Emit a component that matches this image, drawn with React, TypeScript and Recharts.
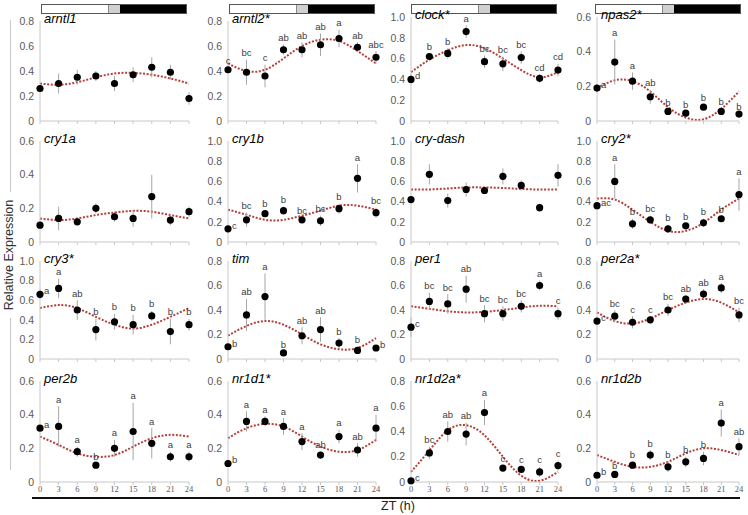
import React from "react";
import { ComposedChart, Line, Scatter, ErrorBar, XAxis, YAxis } from "recharts";

// sampling times (h)
const ZT = [0, 3, 6, 9, 12, 15, 18, 21, 24];

const T06 = [0, 0.2, 0.4, 0.6];
const T08 = [0, 0.2, 0.4, 0.6, 0.8];
const T10 = [0, 0.2, 0.4, 0.6, 0.8, 1.0];

// mean, error, fitted curve (read at each ZT), significance letters (">" = letter on the right)
const arntl1Mean = [0.26, 0.30, 0.35, 0.36, 0.30, 0.37, 0.43, 0.39, 0.18];
const arntl1Err = [0.02, 0.08, 0.06, 0.04, 0.06, 0.06, 0.08, 0.06, 0.05];
const arntl1Fit = [0.30, 0.29, 0.31, 0.35, 0.38, 0.385, 0.37, 0.34, 0.30];

const arntl2Mean = [0.41, 0.39, 0.36, 0.57, 0.57, 0.61, 0.66, 0.59, 0.51];
const arntl2Err = [0.02, 0.10, 0.09, 0.04, 0.06, 0.09, 0.07, 0.04, 0.05];
const arntl2Fit = [0.46, 0.40, 0.41, 0.50, 0.60, 0.65, 0.64, 0.56, 0.46];
const arntl2Sig = ["c", "bc", "c", "ab", "ab", "ab", "a", "ab", "abc"];

const clockMean = [0.40, 0.62, 0.65, 0.86, 0.57, 0.55, 0.61, 0.41, 0.49];
const clockErr = [0.05, 0.03, 0.05, 0.06, 0.06, 0.07, 0.06, 0.04, 0.06];
const clockFit = [0.47, 0.59, 0.68, 0.73, 0.70, 0.60, 0.49, 0.42, 0.47];
const clockSig = [">d", "b", "b", "a", "bc", "bc", "bc", "cd", "cd"];

const npas2Mean = [0.19, 0.34, 0.23, 0.14, 0.055, 0.045, 0.08, 0.055, 0.04];
const npas2Err = [0.01, 0.13, 0.05, 0.04, 0.01, 0.01, 0.015, 0.02, 0.005];
const npas2Fit = [0.19, 0.235, 0.23, 0.17, 0.08, 0.02, 0.01, 0.07, 0.17];
const npas2Sig = [">a", "a", "a", "ab", "b", "b", "b", "b", "b"];

const cry1aMean = [0.10, 0.14, 0.12, 0.20, 0.15, 0.14, 0.27, 0.13, 0.18];
const cry1aErr = [0.02, 0.07, 0.01, 0.03, 0.03, 0.05, 0.13, 0.03, 0.03];
const cry1aFit = [0.14, 0.13, 0.14, 0.16, 0.175, 0.185, 0.18, 0.16, 0.14];

const cry1bMean = [0.13, 0.22, 0.28, 0.31, 0.22, 0.21, 0.33, 0.63, 0.29];
const cry1bErr = [0.03, 0.07, 0.03, 0.04, 0.02, 0.05, 0.05, 0.14, 0.05];
const cry1bFit = [0.32, 0.27, 0.22, 0.22, 0.26, 0.31, 0.36, 0.36, 0.32];
const cry1bSig = [">c", "bc", "b", "b", "bc", "bc", "b", "a", "bc"];

const cryDashMean = [0.42, 0.67, 0.41, 0.52, 0.51, 0.65, 0.56, 0.34, 0.66];
const cryDashErr = [0.01, 0.10, 0.07, 0.07, 0.03, 0.08, 0.05, 0.04, 0.11];
const cryDashFit = [0.52, 0.52, 0.53, 0.54, 0.54, 0.535, 0.525, 0.52, 0.52];

const cry2Mean = [0.36, 0.60, 0.18, 0.22, 0.13, 0.16, 0.19, 0.23, 0.47];
const cry2Err = [0.01, 0.17, 0.05, 0.04, 0.04, 0.02, 0.04, 0.02, 0.16];
const cry2Fit = [0.43, 0.42, 0.32, 0.20, 0.11, 0.11, 0.19, 0.32, 0.43];
const cry2Sig = [">ac", "a", "b", "bc", "b", "b", "b", "b", "a"];

const cry3Mean = [0.66, 0.72, 0.50, 0.30, 0.38, 0.35, 0.44, 0.28, 0.35];
const cry3Err = [0.05, 0.10, 0.10, 0.11, 0.08, 0.10, 0.05, 0.13, 0.06];
const cry3Fit = [0.52, 0.55, 0.52, 0.43, 0.35, 0.31, 0.35, 0.43, 0.52];
const cry3Sig = [">a", "a", "ab", "b", "b", "b", "b", "b", "b"];

const timMean = [0.10, 0.36, 0.51, 0.05, 0.19, 0.24, 0.13, 0.07, 0.09];
const timErr = [0.01, 0.13, 0.19, 0.01, 0.07, 0.10, 0.04, 0.03, 0.01];
const timFit = [0.19, 0.27, 0.31, 0.28, 0.20, 0.12, 0.08, 0.09, 0.17];
const timSig = [">b", "ab", "a", "b", "ab", "ab", "b", "b", ">b"];

const per1Mean = [0.26, 0.47, 0.45, 0.57, 0.37, 0.37, 0.43, 0.60, 0.37];
const per1Err = [0.08, 0.07, 0.08, 0.11, 0.07, 0.06, 0.05, 0.04, 0.05];
const per1Fit = [0.43, 0.41, 0.39, 0.38, 0.385, 0.40, 0.42, 0.435, 0.43];
const per1Sig = [">c", "bc", "bc", "ab", "bc", "bc", "bc", "a", "c"];

const per2aMean = [0.31, 0.35, 0.30, 0.32, 0.40, 0.49, 0.53, 0.58, 0.36];
const per2aErr = [0.02, 0.05, 0.05, 0.03, 0.05, 0.03, 0.04, 0.04, 0.06];
const per2aFit = [0.38, 0.31, 0.29, 0.33, 0.40, 0.46, 0.49, 0.46, 0.38];
const per2aSig = [">c", "bc", "c", "c", "bc", "ab", "ab", "a", "bc"];

const per2bMean = [0.32, 0.33, 0.18, 0.10, 0.20, 0.30, 0.23, 0.15, 0.15];
const per2bErr = [0.01, 0.12, 0.03, 0.01, 0.05, 0.17, 0.09, 0.03, 0.03];
const per2bFit = [0.27, 0.22, 0.17, 0.15, 0.16, 0.21, 0.26, 0.28, 0.27];
const per2bSig = [">a", "a", "a", "b", "a", "a", "a", "a", "a"];

const nr1d1Mean = [0.11, 0.36, 0.36, 0.33, 0.24, 0.16, 0.27, 0.19, 0.32];
const nr1d1Err = [0.01, 0.06, 0.03, 0.05, 0.05, 0.02, 0.04, 0.04, 0.08];
const nr1d1Fit = [0.26, 0.32, 0.345, 0.33, 0.27, 0.21, 0.18, 0.19, 0.25];
const nr1d1Sig = [">b", "a", "a", "a", "a", "ab", "a", "ab", "a"];

const nr1d2aMean = [0.01, 0.23, 0.40, 0.38, 0.55, 0.11, 0.10, 0.08, 0.13];
const nr1d2aErr = [0.01, 0.05, 0.08, 0.09, 0.10, 0.02, 0.02, 0.04, 0.04];
const nr1d2aFit = [0.08, 0.25, 0.41, 0.45, 0.37, 0.20, 0.05, 0.01, 0.08];
const nr1d2aSig = [">c", "bc", "ab", "ab", "a", "c", "c", "c", "c"];

const nr1d2bMean = [0.04, 0.045, 0.10, 0.16, 0.09, 0.12, 0.14, 0.35, 0.21];
const nr1d2bErr = [0.005, 0.01, 0.02, 0.03, 0.03, 0.03, 0.04, 0.08, 0.05];
const nr1d2bFit = [0.16, 0.12, 0.09, 0.09, 0.12, 0.17, 0.20, 0.19, 0.16];
const nr1d2bSig = [">b", "b", "b", "b", "b", "b", "b", "a", "ab"];

const PANELS = [
  { name: "arntl1", mean: arntl1Mean, err: arntl1Err, fit: arntl1Fit, sig: null, ticks: T08 },
  { name: "arntl2*", mean: arntl2Mean, err: arntl2Err, fit: arntl2Fit, sig: arntl2Sig, ticks: T08 },
  { name: "clock*", mean: clockMean, err: clockErr, fit: clockFit, sig: clockSig, ticks: T10 },
  { name: "npas2*", mean: npas2Mean, err: npas2Err, fit: npas2Fit, sig: npas2Sig, ticks: T06 },
  { name: "cry1a", mean: cry1aMean, err: cry1aErr, fit: cry1aFit, sig: null, ticks: T06 },
  { name: "cry1b", mean: cry1bMean, err: cry1bErr, fit: cry1bFit, sig: cry1bSig, ticks: T10 },
  { name: "cry-dash", mean: cryDashMean, err: cryDashErr, fit: cryDashFit, sig: null, ticks: T10 },
  { name: "cry2*", mean: cry2Mean, err: cry2Err, fit: cry2Fit, sig: cry2Sig, ticks: T10 },
  { name: "cry3*", mean: cry3Mean, err: cry3Err, fit: cry3Fit, sig: cry3Sig, ticks: T10 },
  { name: "tim", mean: timMean, err: timErr, fit: timFit, sig: timSig, ticks: T08 },
  { name: "per1", mean: per1Mean, err: per1Err, fit: per1Fit, sig: per1Sig, ticks: T08 },
  { name: "per2a*", mean: per2aMean, err: per2aErr, fit: per2aFit, sig: per2aSig, ticks: T08 },
  { name: "per2b", mean: per2bMean, err: per2bErr, fit: per2bFit, sig: per2bSig, ticks: T06 },
  { name: "nr1d1*", mean: nr1d1Mean, err: nr1d1Err, fit: nr1d1Fit, sig: nr1d1Sig, ticks: T06 },
  { name: "nr1d2a*", mean: nr1d2aMean, err: nr1d2aErr, fit: nr1d2aFit, sig: nr1d2aSig, ticks: T08 },
  { name: "nr1d2b", mean: nr1d2bMean, err: nr1d2bErr, fit: nr1d2bFit, sig: nr1d2bSig, ticks: T06 },
];

// plot area edges in page pixels
const COLS = [[40, 189], [228, 376], [411, 558], [597, 739]];
const ROWS = [[20, 121], [141, 242], [261, 359], [381, 482]];
// first row: the 1.0 / 0.6 panels sit a little higher
const ROW1_TOPS = [21, 21, 17, 17];

const YW = 30;
const RM = 14;
const TM = 12;
const XH = 16;
const AXIS = "#c8c8c8";
const SANS = "'Liberation Sans', Arial, sans-serif";

const fmtY = (v: number) => (v === 0 ? "0" : v.toFixed(1));

const Dot = (p: any) => <circle cx={p.cx} cy={p.cy} r={3.6} fill="#000" />;

const Letter = (p: any) => {
  const d = p.payload;
  if (!d || !d.sig) return <g />;
  if (d.right) {
    return <text x={p.cx + 4} y={p.cy} fontSize={9.5} fill="#404040">{d.sig}</text>;
  }
  return <text x={p.cx} y={p.cy - 3.5} fontSize={9.5} fill="#404040" textAnchor="middle">{d.sig}</text>;
};

const XTick = (p: any) => (
  <text x={p.x} y={p.y} dy="0.71em" textAnchor="middle" fontSize={8.5}
    fontFamily="'Liberation Serif', serif" fill="#595959">{p.payload.value}</text>
);
const NoTick = () => <g />;

function Panel({ p, idx }: { p: any; idx: number }) {
  const col = idx % 4;
  const row = Math.floor(idx / 4);
  const [x0, x1] = COLS[col];
  const y1 = ROWS[row][1];
  const y0 = row === 0 ? ROW1_TOPS[col] : ROWS[row][0];
  const data = ZT.map((t, i) => {
    const s: string = p.sig ? p.sig[i] : "";
    const right = s.startsWith(">");
    return {
      t,
      mean: p.mean[i],
      err: p.err[i],
      fit: p.fit[i],
      sig: right ? s.slice(1) : s,
      right,
      ly: s ? (right ? p.mean[i] : p.mean[i] + p.err[i]) : 0,
    };
  });
  const yMax = p.ticks[p.ticks.length - 1];
  return (
    <div style={{ position: "absolute", left: x0 - YW, top: y0 - TM }}>
      <ComposedChart width={x1 - x0 + YW + RM} height={y1 - y0 + TM + XH} data={data}
        margin={{ top: TM, right: RM, bottom: 0, left: 0 }}>
        <XAxis type="number" dataKey="t" domain={[0, 24]} ticks={ZT} interval={0} height={XH}
          axisLine={{ stroke: AXIS }} tickLine={{ stroke: AXIS }} tickSize={3} tickMargin={1}
          tick={row === 3 ? XTick : NoTick} />
        <YAxis type="number" domain={[0, yMax]} ticks={p.ticks} interval={0} width={YW}
          axisLine={{ stroke: AXIS }} tickLine={false} tickSize={0} tickMargin={6}
          tick={{ fontSize: 10.5, fill: "#595959" }} tickFormatter={fmtY} />
        <Line dataKey="fit" type="natural" stroke="#b5403a" strokeWidth={2} strokeDasharray="2 1.6"
          dot={false} activeDot={false} isAnimationActive={false} />
        <Scatter dataKey="mean" shape={Dot} isAnimationActive={false}>
          <ErrorBar dataKey="err" direction="y" width={0} stroke="#a6a6a6" strokeWidth={1} />
        </Scatter>
        {p.sig && <Scatter dataKey="ly" shape={Letter} isAnimationActive={false} />}
      </ComposedChart>
      <div style={{ position: "absolute", left: YW + 4, top: TM - 9, fontStyle: "italic",
        fontSize: 13, lineHeight: "14px", color: "#000", whiteSpace: "nowrap" }}>{p.name}</div>
    </div>
  );
}

function LightBar({ left }: { left: number }) {
  return (
    <div style={{ position: "absolute", left, top: 4, width: 146, height: 10, border: "1px solid #555",
      boxSizing: "border-box", display: "flex" }}>
      <div style={{ width: 66, background: "#fff" }} />
      <div style={{ width: 11, background: "#d0d0d0", borderLeft: "1px solid #888" }} />
      <div style={{ flex: 1, background: "#000" }} />
    </div>
  );
}

export default function App() {
  return (
    <div style={{ position: "absolute", left: 0, top: 0, width: 748, height: 515, background: "#fff",
      fontFamily: SANS, overflow: "hidden" }}>
      {[41, 229, 411, 595].map((l) => <LightBar key={l} left={l} />)}
      {PANELS.map((p, i) => <Panel key={p.name} p={p} idx={i} />)}
      {/* left axis title with its side rule */}
      <div style={{ position: "absolute", left: 10, top: 20, width: 1, height: 172, background: AXIS }} />
      <div style={{ position: "absolute", left: 10, top: 318, width: 1, height: 152, background: AXIS }} />
      <div style={{ position: "absolute", left: 9, top: 255, transform: "translate(-50%, -50%) rotate(-90deg)",
        fontSize: 12.5, color: "#333", whiteSpace: "nowrap" }}>Relative Expression</div>
      {/* bottom rule and x title */}
      <div style={{ position: "absolute", left: 32, top: 497, width: 708, height: 1.5, background: "#111" }} />
      <div style={{ position: "absolute", left: 381, top: 499, fontSize: 12.5, color: "#222",
        whiteSpace: "nowrap" }}>ZT (h)</div>
    </div>
  );
}
